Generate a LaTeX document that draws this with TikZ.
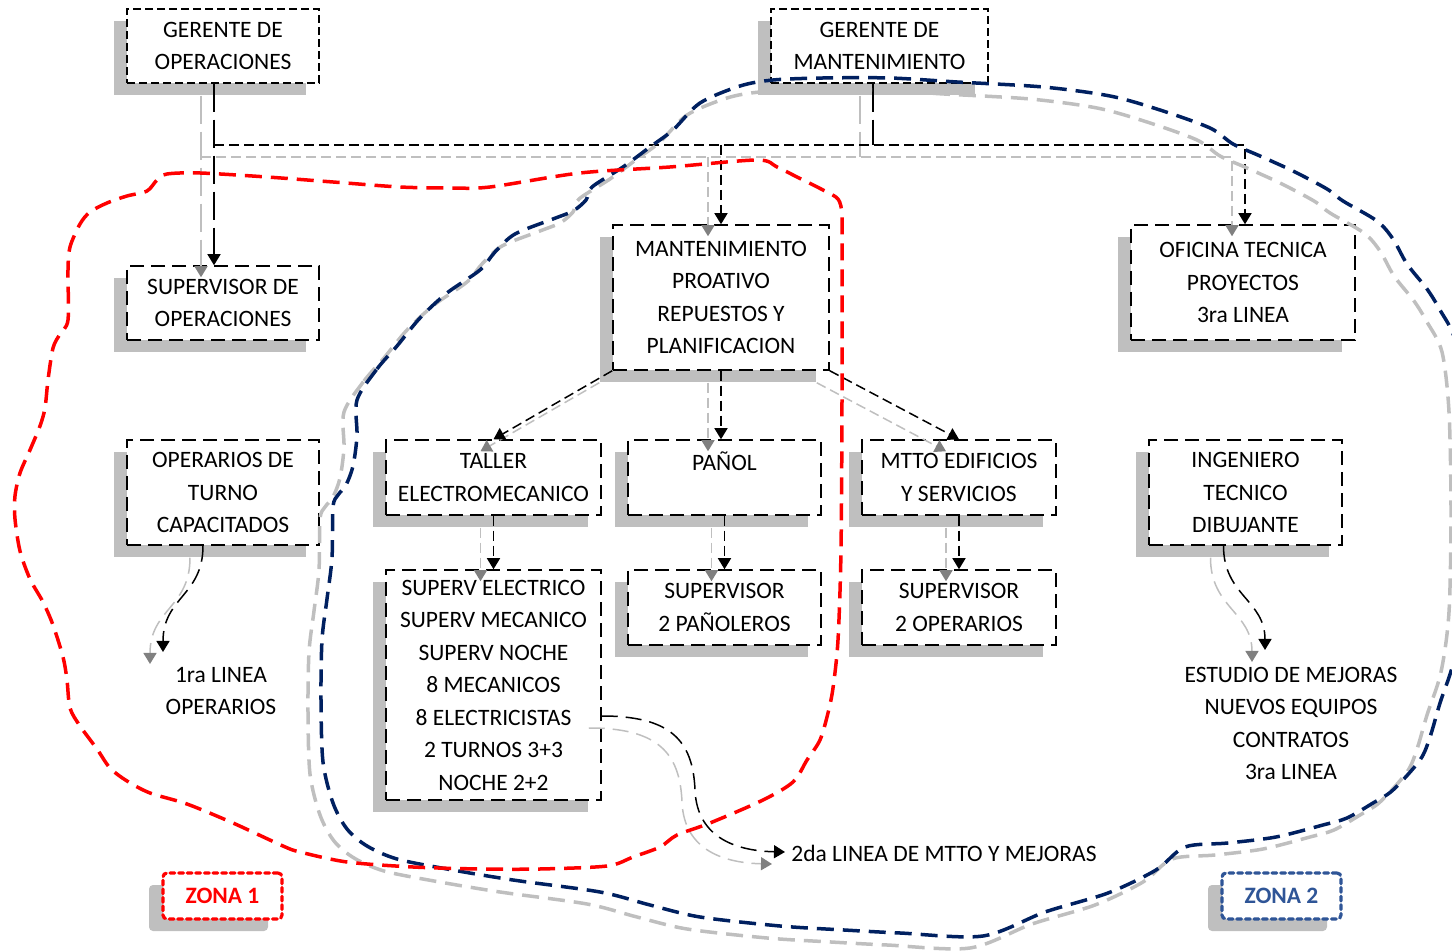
\documentclass[tikz,border=0pt]{standalone}
\usepackage{fontspec}
\setmainfont{Carlito}
\usetikzlibrary{arrows.meta,calc,shadows}

\definecolor{shadowgrey}{RGB}{191,191,191}
\definecolor{tipgrey}{RGB}{128,128,128}
\definecolor{zonenavy}{RGB}{0,32,96}
\definecolor{zoneblue}{RGB}{47,85,151}
\definecolor{zonered}{RGB}{255,0,0}

\tikzset{
  boxshadow/.style={drop shadow={shadow xshift=-6.5pt, shadow yshift=-6pt, opacity=1, fill=shadowgrey}},
  orgbox/.style={draw=black, line width=0.75pt, dash pattern=on 7pt off 3.5pt, fill=white,
                 align=center, inner sep=0pt, boxshadow},
  topbox/.style={orgbox, dash pattern=on 4pt off 2pt},
  boxsize/.style 2 args={minimum width=#1*0.5pt, minimum height=#2*0.5pt},
  freetext/.style={align=center, inner sep=0pt},
  conn/.style={draw=black, line width=0.75pt, dash pattern=on 5pt off 2.5pt},
  longconn/.style={conn, dash pattern=on 14pt off 4pt},
  curveconn/.style={conn, dash pattern=on 8pt off 4pt},
  arrowtip/.style={-{Triangle[length=5.5pt,width=6.5pt]}},
  zoneline/.style={line width=1.75pt, dash pattern=on 8.5pt off 4.5pt},
  zonebox/.style={fill=white, line width=1.6pt, dash pattern=on 2.4pt off 1.9pt, line cap=round,
                  rounded corners=2pt, inner sep=0pt, boxsize={119}{46},
                  font=\fontsize{11.75}{13}\selectfont\bfseries,
                  drop shadow={shadow xshift=-7pt, shadow yshift=-6pt, opacity=1, fill=shadowgrey}}
}

% all reporting lines of the chart; drawn once in black and once as a grey offset shadow
\newcommand{\orglinks}{%
  \draw[longconn,arrowtip] ([xshift=-4.5pt]gops.south) -- ([xshift=-4.5pt]sops.north);
  \draw[conn,arrowtip] ([xshift=-4.5pt]gops.south |- busy) -| ([xshift=1pt]ofic.north);
  \draw[longconn] ([xshift=-3.25pt]gmant.south) -- ([xshift=-3.25pt]gmant.south |- busy);
  \draw[conn,arrowtip] (mant.north |- busy) -- (mant.north);
  \draw[conn,arrowtip] (mant.south west) -- (taller.north);
  \draw[conn,arrowtip] (mant.south) -- (mant.south |- panol.north);
  \draw[conn,arrowtip] (mant.south east) -- (edif.north);
  \draw[conn,arrowtip] (taller.south) -- (superv.north);
  \draw[conn,arrowtip] (panol.south) -- (sup2p.north);
  \draw[conn,arrowtip] (edif.south) -- (sup2o.north);
  \draw[curveconn,arrowtip] ($(oper.south)+(-20,0)$) .. controls +(0,50) and +(0,-55) .. (t1);
  \draw[curveconn,arrowtip] ($(ing.south)+(-22,0)$) .. controls +(0,50) and +(0,-50) .. (t2);
  \draw[curveconn,arrowtip] ($(superv.east)+(0,31)$) .. controls (670,716) and (693,740) .. (695,790)
        .. controls (697,840) and (740,851) .. (t3);
}

\begin{document}
\begin{tikzpicture}[x=0.5pt, y=-0.5pt, font=\fontsize{11.75}{16.25}\selectfont]
\useasboundingbox (0,0) rectangle (1452,951);
\clip (0,0) rectangle (1452,951);

% boxes of the organisation chart
\node[topbox, boxsize={192}{74}] (gops) at (223,46) {GERENTE DE\\OPERACIONES};
\node[topbox, boxsize={217}{74}] (gmant) at (879.5,46) {GERENTE DE\\MANTENIMIENTO};
\node[orgbox, boxsize={192}{74}] (sops) at (223,303) {SUPERVISOR DE\\OPERACIONES};
\node[orgbox, boxsize={216}{145}] (mant) at (721,297.5) {MANTENIMIENTO\\PROATIVO\\REPUESTOS Y\\PLANIFICACION};
\node[orgbox, boxsize={224}{115}] (ofic) at (1243,282.5) {OFICINA TECNICA\\PROYECTOS\\3ra LINEA};
\node[orgbox, boxsize={192}{105}] (oper) at (223,492.5) {OPERARIOS DE\\TURNO\\CAPACITADOS};
\node[orgbox, boxsize={215}{75}] (taller) at (493.5,477.5) {TALLER\\ELECTROMECANICO};
\node[orgbox, boxsize={193}{75}, text height=7.5pt, text depth=14.9pt] (panol) at (724.5,477.5) {PAÑOL};
\node[orgbox, boxsize={194}{75}] (edif) at (959,477.5) {MTTO EDIFICIOS\\Y SERVICIOS};
\node[orgbox, boxsize={193}{105}] (ing) at (1245.5,492.5) {INGENIERO\\TECNICO\\DIBUJANTE};
\node[orgbox, boxsize={215}{230}] (superv) at (493.5,685) {SUPERV ELECTRICO\\SUPERV MECANICO\\SUPERV NOCHE\\8 MECANICOS\\8 ELECTRICISTAS\\2 TURNOS 3+3\\NOCHE 2+2};
\node[orgbox, boxsize={193}{75}] (sup2p) at (724.5,607.5) {SUPERVISOR\\2 PAÑOLEROS};
\node[orgbox, boxsize={194}{75}] (sup2o) at (959,607.5) {SUPERVISOR\\2 OPERARIOS};

% free labels
\node[freetext] (lin1) at (221,691) {1ra LINEA\\OPERARIOS};
\node[freetext] (lin3) at (1291,723.5) {ESTUDIO DE MEJORAS\\NUEVOS EQUIPOS\\CONTRATOS\\3ra LINEA};
\node[freetext, anchor=west] (lin2) at (791,853) {2da LINEA DE MTTO Y MEJORAS};

% zone labels
\node[zonebox, draw=zonered, text=zonered] (z1) at (222.5,896) {ZONA 1};
\node[zonebox, draw=zoneblue, text=zoneblue] (z2) at (1281.5,896) {ZONA 2};

% routing points
\coordinate (busy) at (0,145);
\coordinate (t1) at (163,652);
\coordinate (t2) at (1265,650);
\coordinate (t3) at (785,852);

% connectors: grey shadow first, black on top
\begin{scope}[transform canvas={shift={(-13,12)}}, conn/.append style={draw=shadowgrey},
              arrowtip/.style={-{Triangle[length=5.5pt,width=6.5pt,color=tipgrey]}}]
  \orglinks
\end{scope}
\orglinks

% zone 2 outline with its shadow
\def\zonetwo{plot[smooth cycle, tension=0.5] coordinates {
  (357,400) (377,369) (397,346) (420,318) (447,293) (480,270) (495,252) (515,234) (553,219)
  (573,211) (586,200) (592,187) (623,167) (650,147) (673,130) (700,103) (740,86) (773,80)
  (823,78) (890,78) (957,82) (1043,87) (1110,96) (1160,110) (1210,128) (1233,144) (1260,156)
  (1293,171) (1327,189) (1343,201) (1377,221) (1393,239) (1407,264) (1427,289) (1440,310)
  (1455,340) (1462,400) (1464,500) (1462,600) (1454,660) (1440,703) (1430,737) (1420,760)
  (1393,790) (1373,803) (1347,818) (1323,825) (1276,837) (1228,843) (1185,847) (1156,870)
  (1108,893) (1045,912) (983,936) (900,933) (844,930) (780,926) (700,917) (650,905) (600,892)
  (513,880) (447,869) (397,859) (367,846) (347,829) (333,803) (323,762) (321,700) (322,640)
  (327,599) (332,558) (333,507) (338,495) (346,485) (353,466) (357,436)}}
\begin{scope}[transform canvas={shift={(-13,12)}}]
  \draw[zoneline, draw=shadowgrey] \zonetwo;
\end{scope}
\draw[zoneline, draw=zonenavy] \zonetwo;

% zone 1 outline
\draw[zoneline, draw=zonered] plot[smooth cycle, tension=0.5] coordinates {
  (157,180) (167,174) (200,173) (267,177) (333,182) (400,187) (450,188) (490,187) (580,173)
  (670,167) (757,160) (777,167) (797,177) (823,190) (838,199) (842,214) (842,240) (842,400)
  (841,550) (838,640) (833,688) (828,713) (820,740) (807,760) (793,782) (763,800) (710,823)
  (677,835) (660,847) (633,857) (607,866) (540,869) (480,869) (413,867) (347,862) (300,852)
  (283,846) (233,823) (187,804) (150,793) (127,781) (110,768) (97,749) (80,726) (70,708)
  (67,680) (63,657) (53,625) (43,602) (30,579) (20,551) (15,519) (15,496) (20,473) (30,450)
  (40,426) (45,408) (48,380) (53,348) (60,334) (68,320) (68,270) (70,247) (80,224) (90,212)
  (107,203) (127,196) (147,191)};
\end{tikzpicture}
\end{document}
